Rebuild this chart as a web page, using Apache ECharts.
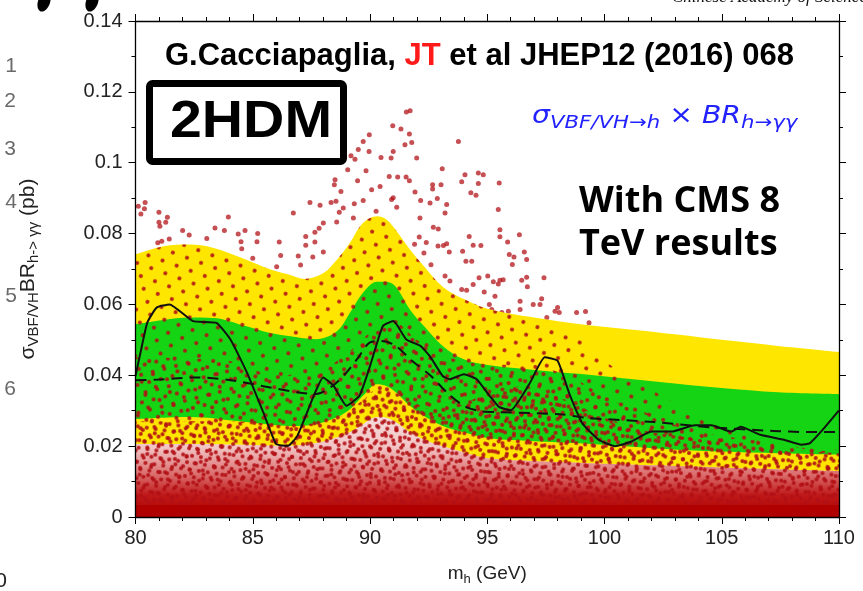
<!DOCTYPE html>
<html>
<head>
<meta charset="utf-8">
<script src="https://cdn.jsdelivr.net/npm/echarts@6/dist/echarts.min.js"></script>
<style>
html,body{margin:0;padding:0;background:#fff;}
#chart{width:863px;height:591px;}
</style>
</head>
<body>
<div id="chart"></div>
<script>
// ---------- data ----------
const xTickLabels = ['80','85','90','95','100','105','110'];
const yTickLabels = ['0','0.02','0.04','0.06','0.08','0.1','0.12','0.14'];

// 2 sigma band (yellow) edges
const yellowUpper = [[80,0.0741],[81.2,0.0764],[82.3,0.0769],[83.3,0.0760],[84.7,0.0727],[85.7,0.0700],[86.6,0.0683],[87.2,0.0672],[88,0.0688],[88.6,0.0727],[89.15,0.0775],[89.7,0.0830],[90.3,0.0849],[90.7,0.0840],[91.1,0.0810],[91.7,0.0755],[92.3,0.0708],[93.1,0.0650],[94,0.0615],[95,0.0588],[97,0.0563],[98.9,0.0545],[101,0.0530],[103.1,0.0515],[105,0.0500],[107.4,0.0483],[110,0.0466]];
const yellowLower = [[80,0.0206],[82.3,0.0206],[84.5,0.0204],[86.6,0.0201],[87.8,0.0210],[88.6,0.0225],[89.15,0.0240],[89.7,0.0262],[90.3,0.0282],[90.7,0.0280],[91.1,0.0268],[91.7,0.0239],[92.6,0.0211],[94.0,0.0183],[95.1,0.0165],[97,0.0158],[98.9,0.0153],[101,0.0148],[103.1,0.0144],[105,0.0140],[107.4,0.0135],[110,0.0130]];
// 1 sigma band (green) edges
const greenUpper = [[80,0.0544],[81.2,0.0556],[82.3,0.0563],[83.3,0.0562],[84.7,0.0539],[85.7,0.0520],[86.6,0.0510],[87.7,0.0502],[88.6,0.0525],[89.15,0.0577],[89.7,0.0633],[90.3,0.0664],[90.7,0.0664],[91.1,0.0650],[91.7,0.0586],[92.3,0.0539],[93.1,0.0483],[94.0,0.0445],[95.1,0.0428],[97,0.0415],[98.9,0.0404],[101,0.0390],[103.1,0.0376],[105,0.0364],[107.4,0.0352],[110,0.0347]];
const greenLower = [[80,0.0276],[82.3,0.0282],[84.7,0.0268],[86.6,0.0257],[87.7,0.0262],[88.6,0.0282],[89.15,0.0304],[89.7,0.0342],[90.3,0.0375],[90.7,0.0370],[91.1,0.0352],[91.7,0.0314],[92.3,0.0285],[93.1,0.0257],[94.0,0.0239],[95.1,0.0222],[97,0.0214],[98.9,0.0208],[101,0.0199],[103.1,0.0190],[105,0.0185],[107.4,0.0180],[110,0.0176]];

// expected (dashed) and observed (solid) limits
const expectedLimit = [[80,0.0386],[81,0.0388],[82.6,0.0394],[84,0.0387],[85.4,0.0370],[86.9,0.0352],[87.7,0.0347],[88.4,0.0370],[89.0,0.0408],[89.5,0.0450],[90.0,0.0493],[90.5,0.0497],[91.1,0.0483],[91.8,0.0440],[92.6,0.0398],[93.3,0.0350],[94.0,0.0314],[94.7,0.0299],[95.5,0.0296],[98.1,0.0290],[99.2,0.0280],[102.1,0.0268],[104.6,0.0253],[107.2,0.0243],[108.6,0.0240],[110,0.0240]];
const observedLimit = [[80,0.0398],[80.2,0.0460],[80.5,0.0548],[80.9,0.0591],[81.45,0.0600],[82.45,0.0553],[83.45,0.0548],[84.05,0.0501],[84.75,0.0408],[85.45,0.0295],[86.0,0.0206],[86.5,0.0201],[86.9,0.0229],[87.6,0.0342],[88.0,0.0394],[88.45,0.0370],[89.0,0.0314],[89.55,0.0342],[90.0,0.0426],[90.55,0.0539],[91.0,0.0553],[91.55,0.0501],[92.15,0.0483],[92.55,0.0454],[93.1,0.0398],[93.4,0.0389],[94.0,0.0403],[94.55,0.0389],[95.1,0.0342],[95.5,0.0311],[96.0,0.0301],[96.8,0.0376],[97.45,0.0451],[98.0,0.0441],[98.5,0.0348],[99.05,0.0265],[99.75,0.0218],[100.45,0.0200],[101.15,0.0213],[102.0,0.0241],[102.85,0.0241],[103.85,0.0259],[104.55,0.0259],[105.4,0.0241],[105.8,0.0255],[106.65,0.0232],[107.65,0.0218],[108.4,0.0204],[108.75,0.0208],[109.3,0.0246],[110,0.0301]];

// upper edges of the model-point cloud at three densities, and the saturated bottom strip
const cloudSparseTop = [[80,0.0741],[81.2,0.0764],[82.3,0.0769],[83.3,0.0760],[84.7,0.0727],[85.7,0.0700],[86.6,0.0683],[87.2,0.0672],[88,0.0688],[88.6,0.0727],[89.15,0.0775],[89.7,0.0830],[90.3,0.0849],[90.7,0.0840],[91.1,0.0810],[91.7,0.0755],[92.3,0.0708],[93.1,0.0650],[94,0.0615],[95,0.0588],[97,0.0563],[98,0.0540],[99,0.0500],[100,0.0440],[101,0.0400],[102,0.0360],[103,0.0320],[104,0.0290],[105,0.0270],[106,0.0240],[107,0.0220],[108,0.0200],[110,0.0190]];
const cloudMidTop = [[80,0.0450],[84,0.0440],[86,0.0400],[88,0.0420],[89,0.0460],[90,0.0520],[91,0.0550],[92,0.0500],[93,0.0460],[94,0.0440],[95,0.0430],[97,0.0430],[98,0.0410],[99,0.0380],[100,0.0340],[101,0.0310],[102,0.0290],[103,0.0260],[104,0.0240],[106,0.0220],[108,0.0200],[110,0.0180]];
const cloudDenseTop = [[80,0.0270],[84,0.0270],[86.6,0.0260],[88.6,0.0280],[89.7,0.0330],[90.3,0.0360],[91.1,0.0350],[92.3,0.0310],[93.1,0.0300],[94,0.0320],[95,0.0350],[96,0.0370],[97,0.0360],[98,0.0340],[99,0.0310],[100,0.0280],[101,0.0260],[102,0.0240],[103,0.0230],[104,0.0220],[106,0.0205],[108,0.0190],[110,0.0180]];
const solidStripTop = [[80,0.0034],[110,0.0034]];

// individual model points standing out above the bands
const sparsePoints = [[80.12,0.0877],[80.41,0.0888],[80.23,0.0855],[80.38,0.0870],[81.0,0.0860],[81.36,0.0846],[81.0,0.0832],[81.04,0.0821],[81.29,0.0832],[82.01,0.0809],[82.29,0.0796],[81.12,0.0778],[80.95,0.0774],[81.44,0.0785],[83.04,0.0786],[83.39,0.0816],[83.79,0.0809],[83.96,0.0847],[84.38,0.0799],[84.67,0.0809],[84.5,0.0777],[84.53,0.0757],[85.21,0.0800],[85.18,0.0777],[85.0,0.0730],[85.52,0.0697],[86.02,0.0706],[86.13,0.0776],[86.19,0.0738],[86.73,0.0858],[86.94,0.0737],[87.04,0.0711],[87.26,0.0792],[87.26,0.0767],[87.44,0.0888],[87.56,0.0734],[87.65,0.0804],[87.87,0.0880],[87.83,0.0815],[88.01,0.0830],[88.34,0.0888],[88.01,0.0748],[87.65,0.0776],
[91.55,0.1143],[91.71,0.1147],[90.97,0.1104],[91.32,0.1095],[91.68,0.1081],[89.97,0.1079],[89.71,0.1060],[89.5,0.1037],[89.96,0.1032],[89.19,0.1020],[89.36,0.1010],[90.47,0.1015],[90.9,0.1013],[90.99,0.1032],[91.49,0.1051],[91.78,0.1057],[91.99,0.1013],[89.05,0.0980],[88.51,0.0952],[88.48,0.0938],[89.47,0.0949],[89.83,0.0977],[90.82,0.0961],[91.18,0.0960],[91.54,0.0960],[91.68,0.0949],[90.43,0.0933],[90.07,0.0924],[88.76,0.0919],[90.92,0.0896],[90.99,0.0901],[91.14,0.0874],[91.92,0.0917],[92.16,0.0893],[92.67,0.0938],[92.67,0.0926],[93.03,0.0938],[92.87,0.0899],[92.56,0.0886],[93.08,0.0983],[93.77,0.1060],[94.05,0.0966],[93.91,0.0946],[94.62,0.0971],[94.83,0.0966],[94.62,0.0941],[94.3,0.0915],[94.52,0.0908],[95.51,0.0943],[95.47,0.0868],[88.55,0.0891],[89.33,0.0884],[89.71,0.0893],[88.86,0.0872],[88.69,0.0860],[89.29,0.0844],[88.58,0.0833],[90.26,0.0863],[92.13,0.0844],[92.7,0.0818],[92.91,0.0813],[93.2,0.0858],[93.27,0.0882],
[95.54,0.0811],[95.54,0.0791],[96.37,0.0797],[94.23,0.0792],[94.4,0.0767],[94.73,0.0766],[95.87,0.0776],[95.94,0.0741],[96.14,0.0734],[96.07,0.0713],[96.58,0.0748],[96.68,0.0727],[93.13,0.0766],[93.27,0.0771],[93.38,0.0748],[93.95,0.0750],[94.09,0.0722],[94.34,0.0722],[93.2,0.0680],[93.41,0.0666],[94.4,0.0656],[94.65,0.0675],[95.02,0.0680],[95.26,0.0664],[95.47,0.0658],[95.54,0.0668],[95.68,0.0670],[96.47,0.0668],[96.68,0.0677],[96.71,0.0650],[97.42,0.0675],[93.91,0.0642],[94.12,0.0640],[94.87,0.0635],[95.33,0.0623],[95.09,0.0600],[95.19,0.0586],[95.62,0.0577],[95.9,0.0581],[96.4,0.0609],[96.4,0.0586],[96.96,0.0600],[97.25,0.0600],[97.32,0.0616],[97.54,0.0563],[97.89,0.0581],[98.0,0.0591],[98.07,0.0577],[98.81,0.0577],[94.45,0.0595],[99.19,0.0580],[99.34,0.0548],
[92.3,0.0745],[92.6,0.0712],[92.1,0.0790],[91.9,0.0770],[92.9,0.0765],[92.4,0.0775]];

// ---------- styles ----------
const FONT = "'Liberation Sans', Arial, Helvetica, sans-serif";
const YELLOW = '#ffe600';
const GREEN = '#14d414';
const DOT = 'rgba(178,16,22,0.92)';

function areaSeries(data, fill, extra) {
  return Object.assign({
    type: 'line', data: data, symbol: 'none', showSymbol: false, smooth: 0.35,
    lineStyle: { width: 0 }, areaStyle: { color: fill, opacity: 1 },
    silent: true, animation: false
  }, extra || {});
}
function decalSeries(data, decal) {
  return {
    type: 'line', data: data, symbol: 'none', showSymbol: false, smooth: 0.35,
    lineStyle: { width: 0, decal: decal },
    itemStyle: { decal: decal },
    areaStyle: { color: 'rgba(255,255,255,0.001)', opacity: 1 },
    silent: true, animation: false
  };
}

const axisCommonX = {
  type: 'value', min: 80, max: 110, interval: 5, gridIndex: 0, z: 10,
  axisLine: { show: true, onZero: false, lineStyle: { color: '#000', width: 1.3 } },
  axisTick: { show: true, inside: false, length: 7, lineStyle: { color: '#000', width: 1 } },
  minorTick: { show: true, splitNumber: 5, length: 4, lineStyle: { color: '#000', width: 1 } },
  splitLine: { show: false }, minorSplitLine: { show: false }
};
const axisCommonY = {
  type: 'value', min: 0, max: 0.14, interval: 0.02, gridIndex: 0, z: 10,
  axisLine: { show: true, onZero: false, lineStyle: { color: '#000', width: 1.3 } },
  axisTick: { show: true, inside: false, length: 7, lineStyle: { color: '#000', width: 1 } },
  minorTick: { show: true, splitNumber: 2, length: 4, lineStyle: { color: '#000', width: 1 } },
  splitLine: { show: false }, minorSplitLine: { show: false }
};

const option = {
  animation: false,
  backgroundColor: '#fff',
  grid: { left: 135.5, right: 24, top: 21, bottom: 73, containLabel: false },
  xAxis: [
    Object.assign({}, axisCommonX, {
      position: 'bottom',
      axisLabel: { show: true, fontSize: 20, color: '#222', fontFamily: FONT, margin: 11,
        formatter: v => xTickLabels[Math.round((v - 80) / 5)] },
      name: '{m|m}{s|h}{m| (GeV)}', nameLocation: 'middle', nameGap: 45,
      nameTextStyle: { fontSize: 19, color: '#222', fontFamily: FONT,
        rich: { m: { fontSize: 19, color: '#222', fontFamily: FONT, lineHeight: 24 },
                s: { fontSize: 13, color: '#222', fontFamily: FONT, verticalAlign: 'bottom', lineHeight: 24 } } }
    }),
    Object.assign({}, axisCommonX, { position: 'top', axisLabel: { show: false } })
  ],
  yAxis: [
    Object.assign({}, axisCommonY, {
      position: 'left',
      axisLabel: { show: true, fontSize: 20, color: '#222', fontFamily: FONT, margin: 13,
        formatter: v => yTickLabels[Math.round(v / 0.02)] },
      name: '{m|σ}{s|VBF/VH}{m|BR}{s|h-> γγ}{m| (pb)}', nameLocation: 'middle', nameGap: 94, nameRotate: 90,
      nameTextStyle: { fontSize: 21, color: '#222', fontFamily: FONT,
        rich: { m: { fontSize: 21, color: '#222', fontFamily: FONT, lineHeight: 27 },
                s: { fontSize: 15, color: '#222', fontFamily: FONT, verticalAlign: 'bottom', lineHeight: 27 } } }
    }),
    Object.assign({}, axisCommonY, { position: 'right', axisLabel: { show: false } })
  ],
  series: [
    areaSeries(yellowUpper, YELLOW),
    areaSeries(greenUpper, GREEN),
    areaSeries(greenLower, YELLOW),
    areaSeries(yellowLower, '#ffffff'),
    areaSeries(yellowLower, {
      type: 'linear', x: 0, y: 0, x2: 0, y2: 1,
      colorStops: [
        { offset: 0, color: 'rgba(205,30,30,0.16)' },
        { offset: 0.3, color: 'rgba(205,30,30,0.26)' },
        { offset: 0.58, color: 'rgba(195,15,15,0.62)' },
        { offset: 0.78, color: 'rgba(185,5,5,0.92)' },
        { offset: 1, color: 'rgba(176,0,0,1)' }
      ]
    }),
    decalSeries(cloudSparseTop, { symbol: 'circle', symbolSize: 1, color: DOT,
      dashArrayX: [[3.5, 10.5], [0, 7, 3.5, 3.5]], dashArrayY: [3.5, 6.5], rotation: 0.35 }),
    decalSeries(cloudMidTop, { symbol: 'circle', symbolSize: 1, color: DOT,
      dashArrayX: [[3.5, 7.5], [0, 5.5, 3.5, 2]], dashArrayY: [3.5, 4.5], rotation: -0.25 }),
    decalSeries(cloudDenseTop, { symbol: 'circle', symbolSize: 1, color: DOT,
      dashArrayX: [[3.5, 4.5], [0, 4, 3.5, 0.5]], dashArrayY: [3.5, 2.5], rotation: 0.15 }),
    areaSeries(solidStripTop, '#b00000', { smooth: false }),
    {
      type: 'scatter', data: sparsePoints, symbol: 'circle', symbolSize: 5,
      itemStyle: { color: DOT }, silent: true, animation: false
    },
    {
      type: 'line', data: expectedLimit, symbol: 'none', showSymbol: false, smooth: 0.3,
      lineStyle: { color: '#111', width: 2, type: [11, 7] }, silent: true, z: 5
    },
    {
      type: 'line', data: observedLimit, symbol: 'none', showSymbol: false, smooth: 0.15,
      lineStyle: { color: '#111', width: 2 }, silent: true, z: 5
    }
  ],
  graphic: [
    { type: 'text', x: 165, y: 56, z: 100, style: {
        text: '{a|G.Cacciapaglia, }{r|JT}{a| et al JHEP12 (2016) 068}',
        align: 'left', verticalAlign: 'middle',
        rich: {
          a: { fontSize: 31, fontWeight: 'bold', fontFamily: FONT, fill: '#000' },
          r: { fontSize: 31, fontWeight: 'bold', fontFamily: FONT, fill: '#ff1a1a' }
        } } },
    { type: 'rect', z: 100, shape: { x: 149.5, y: 83.5, width: 194, height: 78, r: 3 },
      style: { fill: '#fff', stroke: '#000', lineWidth: 7 } },
    { type: 'text', x: 170, y: 123, z: 101, scaleX: 1.1, style: {
        text: '2HDM', x: 0, y: 0, fontSize: 52, fontWeight: 'bold', fontFamily: FONT,
        fill: '#000', align: 'left', verticalAlign: 'middle' } },
    { type: 'text', x: 532, y: 117, z: 100, scaleX: 1.18, style: {
        text: '{m|σ}{s|VBF/VH→h}{n| × }{m|BR}{s|h→γγ}', x: 0, y: 0,
        align: 'left', verticalAlign: 'middle',
        rich: {
          m: { fontSize: 24, fontStyle: 'italic', fontFamily: "'DejaVu Sans', sans-serif", fill: '#2222ff', lineHeight: 31 },
          n: { fontSize: 24, fontFamily: "'DejaVu Sans', sans-serif", fill: '#2222ff', lineHeight: 31 },
          s: { fontSize: 18, fontStyle: 'italic', fontFamily: "'DejaVu Sans', sans-serif", fill: '#2222ff', verticalAlign: 'bottom', lineHeight: 31 }
        } } },
    { type: 'text', x: 579, y: 202, z: 100, style: {
        text: 'With CMS 8', fontSize: 36, fontWeight: 'bold', fontFamily: "'Open Sans', 'Noto Sans', sans-serif",
        fill: '#000', align: 'left', verticalAlign: 'middle' } },
    { type: 'text', x: 579, y: 245, z: 100, style: {
        text: 'TeV results', fontSize: 36, fontWeight: 'bold', fontFamily: "'Open Sans', 'Noto Sans', sans-serif",
        fill: '#000', align: 'left', verticalAlign: 'middle' } },
    // slide fragments around the figure
    { type: 'text', x: 672, y: 6, z: 100, style: {
        text: 'Chinese Academy of Sciences', fontSize: 17, fontStyle: 'italic',
        fontFamily: "'Liberation Serif', 'DejaVu Serif', serif", fill: '#111', align: 'left', verticalAlign: 'bottom' } },
    { type: 'text', x: 11, y: 66, z: 100, style: { text: '1', fontSize: 21, fontFamily: FONT, fill: '#6a6a6a', align: 'center', verticalAlign: 'middle' } },
    { type: 'text', x: 10, y: 101, z: 100, style: { text: '2', fontSize: 21, fontFamily: FONT, fill: '#6a6a6a', align: 'center', verticalAlign: 'middle' } },
    { type: 'text', x: 10, y: 149, z: 100, style: { text: '3', fontSize: 21, fontFamily: FONT, fill: '#6a6a6a', align: 'center', verticalAlign: 'middle' } },
    { type: 'text', x: 11, y: 202, z: 100, style: { text: '4', fontSize: 21, fontFamily: FONT, fill: '#6a6a6a', align: 'center', verticalAlign: 'middle' } },
    { type: 'text', x: 11, y: 296, z: 100, style: { text: '5', fontSize: 21, fontFamily: FONT, fill: '#6a6a6a', align: 'center', verticalAlign: 'middle' } },
    { type: 'text', x: 10, y: 389, z: 100, style: { text: '6', fontSize: 21, fontFamily: FONT, fill: '#6a6a6a', align: 'center', verticalAlign: 'middle' } },
    { type: 'text', x: 1, y: 581, z: 100, style: { text: '0', fontSize: 21, fontFamily: FONT, fill: '#222', align: 'center', verticalAlign: 'middle' } },
    { type: 'ellipse', x: 44, y: 2, rotation: -0.35, z: 100, shape: { cx: 0, cy: 0, rx: 6, ry: 10 }, style: { fill: '#000' } },
    { type: 'ellipse', x: 92, y: 2, rotation: -0.35, z: 100, shape: { cx: 0, cy: 0, rx: 6, ry: 10 }, style: { fill: '#000' } }
  ]
};

const chart = echarts.init(document.getElementById('chart'), null, { renderer: 'canvas' });
chart.setOption(option);
</script>
</body>
</html>
